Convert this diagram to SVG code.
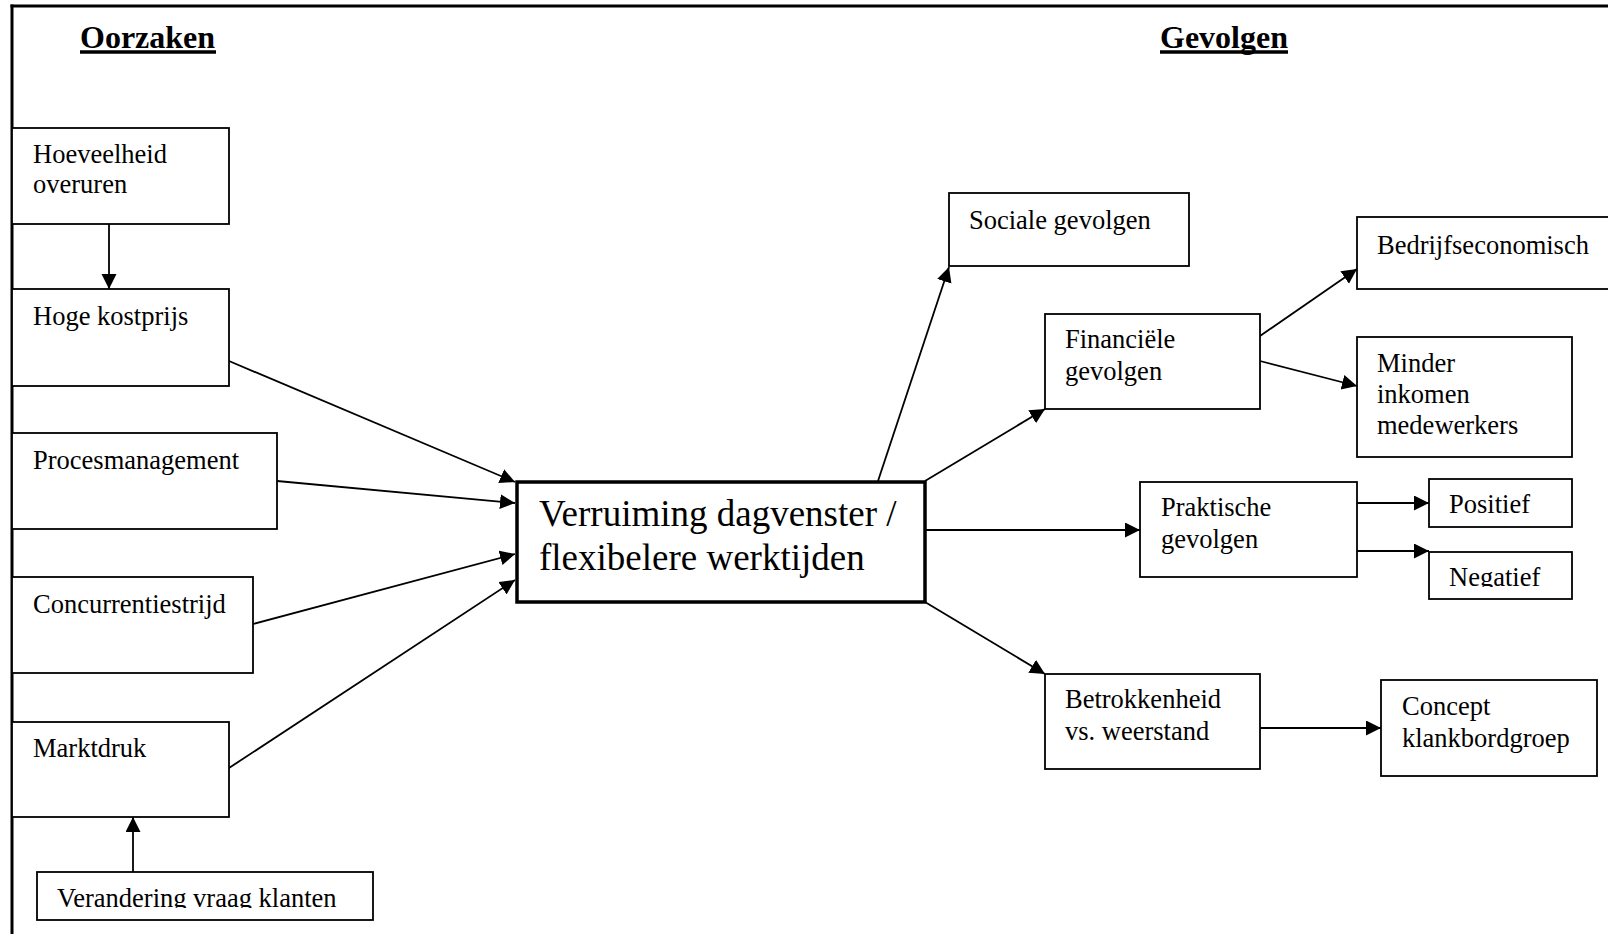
<svg xmlns="http://www.w3.org/2000/svg" width="1608" height="934" viewBox="0 0 1608 934">
<style>
.box{fill:#fff;stroke:#000;stroke-width:1.8}
.main{fill:#fff;stroke:#000;stroke-width:3.5}
.t{font-family:"Liberation Serif","Times New Roman",serif;font-size:26.5px;fill:#000}
.big{font-family:"Liberation Serif","Times New Roman",serif;font-size:37px;fill:#000}
.h{font-family:"Liberation Serif","Times New Roman",serif;font-size:32px;font-weight:bold;fill:#000}
.c{stroke:#000;stroke-width:1.8;fill:none;marker-end:url(#ah)}
</style>
<defs>
<marker id="ah" markerUnits="userSpaceOnUse" markerWidth="16" markerHeight="16" refX="15" refY="7.5" orient="auto">
<path d="M0,0 L15,7.5 L0,15 z" fill="#000"/>
</marker>
<clipPath id="clipV"><rect x="37" y="872" width="336" height="36"/></clipPath>
<clipPath id="clipN"><rect x="1429" y="552" width="143" height="35"/></clipPath>
</defs>
<rect width="1608" height="934" fill="#fff"/>
<g id="frame">
<line x1="10.5" y1="6" x2="1608" y2="6" stroke="#000" stroke-width="3"/>
<line x1="12" y1="4.5" x2="12" y2="934" stroke="#000" stroke-width="3"/>
</g>
<g id="titles">
<text class="h" x="80" y="48">Oorzaken</text>
<line x1="80" y1="52" x2="216" y2="52" stroke="#000" stroke-width="3.5"/>
<text class="h" x="1160" y="48">Gevolgen</text>
<line x1="1160" y1="52" x2="1288" y2="52" stroke="#000" stroke-width="3.5"/>
</g>
<g id="connectors">
<line class="c" x1="109" y1="224" x2="109" y2="289"/>
<line class="c" x1="229" y1="361" x2="515" y2="482"/>
<line class="c" x1="277" y1="481" x2="515" y2="503"/>
<line class="c" x1="253" y1="624" x2="515" y2="554"/>
<line class="c" x1="229" y1="768" x2="515" y2="580"/>
<line class="c" x1="133" y1="872" x2="133" y2="817"/>
<line class="c" x1="878" y1="481" x2="949" y2="267"/>
<line class="c" x1="925" y1="481" x2="1045" y2="409"/>
<line class="c" x1="925" y1="530" x2="1140" y2="530"/>
<line class="c" x1="925" y1="602" x2="1045" y2="674"/>
<line class="c" x1="1260" y1="336" x2="1357" y2="269"/>
<line class="c" x1="1260" y1="361" x2="1357" y2="386"/>
<line class="c" x1="1357" y1="503" x2="1429" y2="503"/>
<line class="c" x1="1357" y1="551" x2="1429" y2="551"/>
<line class="c" x1="1260" y1="728" x2="1381" y2="728"/>
</g>
<g id="n-hoeveelheid">
<rect class="box" x="12" y="128" width="217" height="96"/>
<text class="t" x="33" y="163">Hoeveelheid</text>
<text class="t" x="33" y="193">overuren</text>
</g>
<g id="n-hoge">
<rect class="box" x="12" y="289" width="217" height="97"/>
<text class="t" x="33" y="325">Hoge kostprijs</text>
</g>
<g id="n-proces">
<rect class="box" x="12" y="433" width="265" height="96"/>
<text class="t" x="33" y="469">Procesmanagement</text>
</g>
<g id="n-concurrentie">
<rect class="box" x="12" y="577" width="241" height="96"/>
<text class="t" x="33" y="613">Concurrentiestrijd</text>
</g>
<g id="n-marktdruk">
<rect class="box" x="12" y="722" width="217" height="95"/>
<text class="t" x="33" y="757">Marktdruk</text>
</g>
<g id="n-verandering">
<rect class="box" x="37" y="872" width="336" height="48"/>
<text class="t" x="57" y="907" clip-path="url(#clipV)">Verandering vraag klanten</text>
</g>
<g id="n-central">
<rect class="main" x="517" y="482" width="408" height="120"/>
<text class="big" x="539" y="526">Verruiming dagvenster /</text>
<text class="big" x="539" y="570">flexibelere werktijden</text>
</g>
<g id="n-sociale">
<rect class="box" x="949" y="193" width="240" height="73"/>
<text class="t" x="969" y="229">Sociale gevolgen</text>
</g>
<g id="n-financiele">
<rect class="box" x="1045" y="314" width="215" height="95"/>
<text class="t" x="1065" y="348">Financiële</text>
<text class="t" x="1065" y="380">gevolgen</text>
</g>
<g id="n-bedrijf">
<rect class="box" x="1357" y="217" width="260" height="72"/>
<text class="t" x="1377" y="254">Bedrijfseconomisch</text>
</g>
<g id="n-minder">
<rect class="box" x="1357" y="337" width="215" height="120"/>
<text class="t" x="1377" y="372">Minder</text>
<text class="t" x="1377" y="403">inkomen</text>
<text class="t" x="1377" y="434">medewerkers</text>
</g>
<g id="n-praktische">
<rect class="box" x="1140" y="482" width="217" height="95"/>
<text class="t" x="1161" y="516">Praktische</text>
<text class="t" x="1161" y="548">gevolgen</text>
</g>
<g id="n-positief">
<rect class="box" x="1429" y="479" width="143" height="48"/>
<text class="t" x="1449" y="513">Positief</text>
</g>
<g id="n-negatief">
<rect class="box" x="1429" y="552" width="143" height="47"/>
<text class="t" x="1449" y="586" clip-path="url(#clipN)">Negatief</text>
</g>
<g id="n-betrokkenheid">
<rect class="box" x="1045" y="674" width="215" height="95"/>
<text class="t" x="1065" y="708">Betrokkenheid</text>
<text class="t" x="1065" y="740">vs. weerstand</text>
</g>
<g id="n-concept">
<rect class="box" x="1381" y="680" width="216" height="96"/>
<text class="t" x="1402" y="715">Concept</text>
<text class="t" x="1402" y="747">klankbordgroep</text>
</g>
</svg>
